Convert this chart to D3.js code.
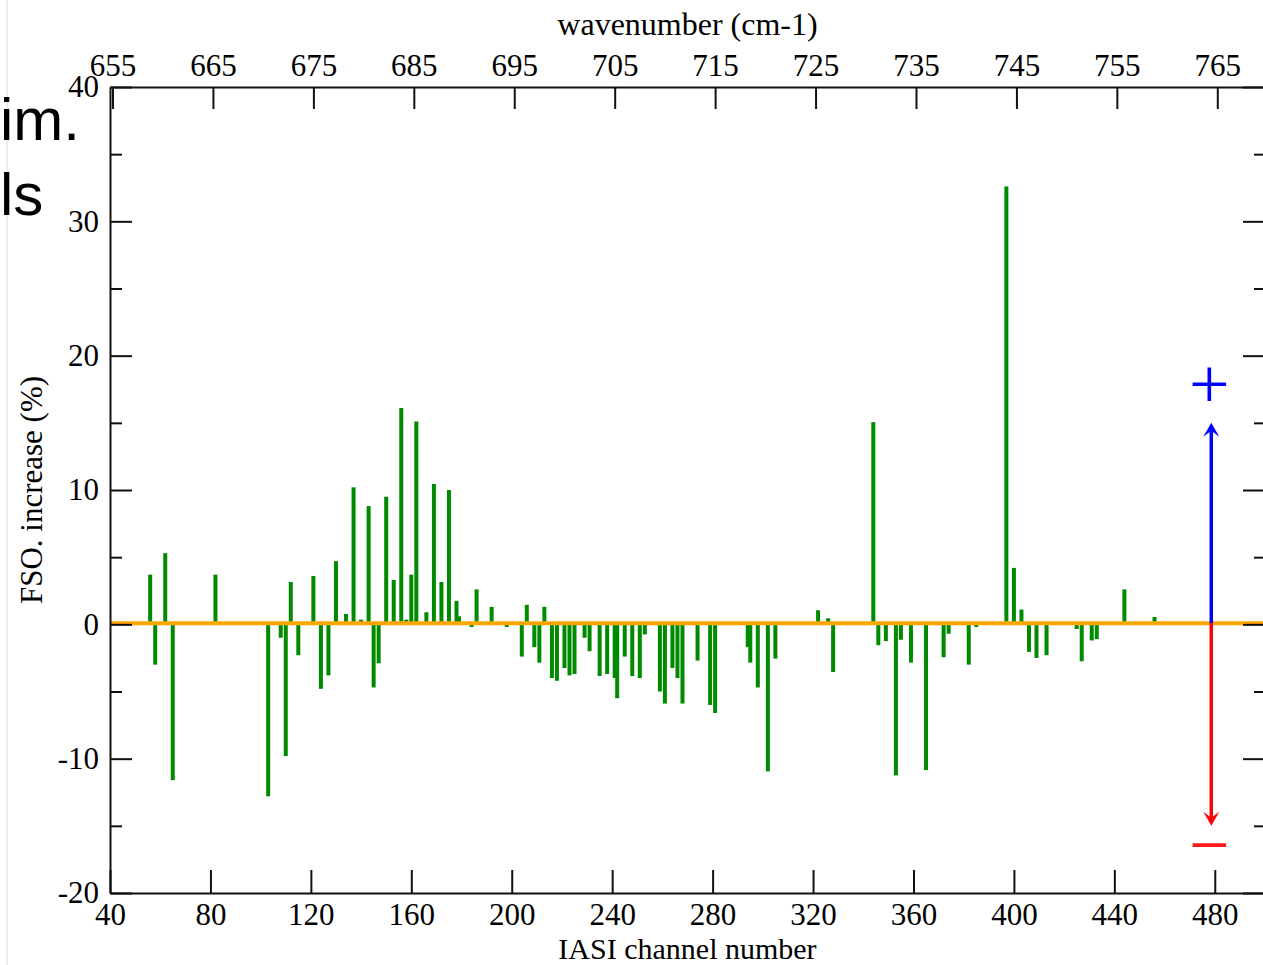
<!DOCTYPE html>
<html>
<head>
<meta charset="utf-8">
<script src="https://cdn.jsdelivr.net/npm/d3@7"></script>
<style>
  body { margin: 0; background: #fff; }
  svg { display: block; }
  .serif { font-family: "Liberation Serif", "Times New Roman", serif; fill: #000; }
</style>
</head>
<body>
<svg id="chart" width="1263" height="965"></svg>
<script>
// IASI channels and the FSO change (%) obtained for each of them
const channels = [
  56, 58, 62, 65, 82, 103, 108, 110, 112, 115, 121, 124, 127, 130, 134, 137, 140, 143, 145, 147,
  150, 153, 156, 158, 160, 162, 166, 169, 172, 175, 178, 179, 184, 186, 192, 198, 204, 206, 209, 211,
  213, 216, 218, 221, 223, 225, 229, 231, 235, 238, 241, 242, 245, 248, 251, 253, 259, 261, 264, 266,
  268, 274, 279, 281, 294, 295, 298, 302, 305, 322, 326, 328, 344, 346, 349, 353, 355, 359, 365, 372,
  374, 382, 385, 397, 400, 403, 406, 409, 413, 425, 427, 431, 433, 444, 456
];
const fsoIncrease = [
  3.7, -3.0, 5.3, -11.6, 3.7, -12.8, -1.0, -9.8, 3.15, -2.3, 3.6, -4.8, -3.8, 4.7, 0.77, 10.2, 0.35, 8.8, -4.7, -2.9,
  9.5, 3.3, 16.1, 0.35, 3.7, 15.1, 0.9, 10.45, 3.15, 10.0, 1.75, 0.6, -0.2, 2.6, 1.3, -0.2, -2.4, 1.45, -1.7, -2.85,
  1.3, -4.0, -4.2, -3.25, -3.8, -3.7, -1.0, -2.0, -3.85, -3.7, -4.0, -5.5, -2.4, -3.85, -4.0, -0.75, -5.0, -5.9, -3.25, -4.0,
  -5.9, -2.7, -6.0, -6.6, -1.7, -2.85, -4.7, -10.95, -2.55, 1.05, 0.45, -3.55, 15.05, -1.55, -1.25, -11.25, -1.15, -2.85, -10.85, -2.45,
  -0.7, -3.0, -0.2, 32.6, 4.2, 1.1, -2.05, -2.5, -2.3, -0.35, -2.75, -1.2, -1.1, 2.6, 0.55
];

// Axis ticks
const channelTicks = [40, 80, 120, 160, 200, 240, 280, 320, 360, 400, 440, 480];
const wavenumberTicks = [655, 665, 675, 685, 695, 705, 715, 725, 735, 745, 755, 765];
const fsoTicks = [-20, -10, 0, 10, 20, 30, 40];
const fsoMinorTicks = [-15, -5, 5, 15, 25, 35];

// Sign-convention marker (arrows from zero, with + and - labels)
const markerChannel = 479;
const markerUp = 15;
const markerDown = -15;
const plusAt = 17.8;
const minusAt = -16.35;

const svg = d3.select("#chart");
const plotLeft = 110, plotRight = 1265, plotTop = 87, plotBottom = 893;

const x = d3.scaleLinear().domain([40, 500]).range([plotLeft, plotRight]);
// IASI channel n sits at 645 + (n - 1) * 0.25 cm-1
const wn = d3.scaleLinear().domain([645 + 39 * 0.25, 645 + 499 * 0.25]).range([plotLeft, plotRight]);
const y = d3.scaleLinear().domain([-20, 40]).range([plotBottom, plotTop]);

svg.append("rect").attr("width", 1263).attr("height", 965).attr("fill", "#fff");

// slide fragments on the left edge
svg.append("line").attr("x1", 7).attr("x2", 7).attr("y1", 0).attr("y2", 965)
  .attr("stroke", "#ededed").attr("stroke-width", 2);
svg.append("text").attr("x", 0).attr("y", 140).text("im.")
  .style("font-family", '"Liberation Sans", Arial, sans-serif').style("font-size", "60px");
svg.append("text").attr("x", 0).attr("y", 215).text("ls")
  .style("font-family", '"Liberation Sans", Arial, sans-serif').style("font-size", "60px");

// bars
const data = channels.map((c, i) => ({ c, v: fsoIncrease[i] }));
svg.append("g").selectAll("rect").data(data).join("rect")
  .attr("x", d => x(d.c) - 2)
  .attr("width", 4)
  .attr("y", d => Math.min(y(d.v), y(0)))
  .attr("height", d => Math.abs(y(d.v) - y(0)))
  .attr("fill", "#008a00");

// zero line
svg.append("line")
  .attr("x1", plotLeft).attr("x2", plotRight)
  .attr("y1", y(0) - 1).attr("y2", y(0) - 1)
  .attr("stroke", "#ffa500").attr("stroke-width", 4);

// axes
function styleAxis(g) {
  g.attr("font-family", null).attr("font-size", null);
  g.selectAll(".domain").attr("stroke", "#111").attr("stroke-width", 2);
  g.selectAll(".tick line").attr("stroke", "#111").attr("stroke-width", 2);
  g.selectAll(".tick text").attr("class", "serif").style("font-size", "31px").attr("fill", "#000");
}
const fmt = d => String(d);

svg.append("g").attr("transform", `translate(0,${plotBottom})`)
  .call(d3.axisBottom(x).tickValues(channelTicks).tickFormat(fmt).tickSizeInner(-23).tickSizeOuter(0).tickPadding(10))
  .call(styleAxis);

svg.append("g").attr("transform", `translate(0,${plotTop})`)
  .call(d3.axisTop(wn).tickValues(wavenumberTicks).tickFormat(fmt).tickSizeInner(-22).tickSizeOuter(0).tickPadding(11))
  .call(styleAxis);

svg.append("g").attr("transform", `translate(${plotLeft},0)`)
  .call(d3.axisLeft(y).tickValues(fsoTicks).tickFormat(fmt).tickSizeInner(-22).tickSizeOuter(0).tickPadding(11))
  .call(styleAxis);
svg.append("g").attr("transform", `translate(${plotLeft},0)`)
  .call(d3.axisLeft(y).tickValues(fsoMinorTicks).tickFormat("").tickSizeInner(-12).tickSizeOuter(0))
  .call(styleAxis).select(".domain").remove();

svg.append("g").attr("transform", `translate(${plotRight},0)`)
  .call(d3.axisRight(y).tickValues(fsoTicks).tickFormat("").tickSizeInner(-22).tickSizeOuter(0))
  .call(styleAxis);
svg.append("g").attr("transform", `translate(${plotRight},0)`)
  .call(d3.axisRight(y).tickValues(fsoMinorTicks).tickFormat("").tickSizeInner(-11).tickSizeOuter(0))
  .call(styleAxis).select(".domain").remove();

// axis titles
svg.append("text").attr("class", "serif")
  .attr("x", (plotLeft + plotRight) / 2).attr("y", 35).attr("text-anchor", "middle")
  .style("font-size", "32px").text("wavenumber (cm-1)");
svg.append("text").attr("class", "serif")
  .attr("x", (plotLeft + plotRight) / 2).attr("y", 959).attr("text-anchor", "middle")
  .style("font-size", "30px").text("IASI channel number");
svg.append("text").attr("class", "serif")
  .attr("transform", `translate(42,${(plotTop + plotBottom) / 2}) rotate(-90)`)
  .attr("text-anchor", "middle")
  .style("font-size", "31px").text("FSO. increase (%)");

// sign-convention arrows
function arrow(value, color) {
  const ax = x(markerChannel) - 1;
  const tip = y(value);
  const dir = value > 0 ? 1 : -1;           // +1 points up, -1 points down
  const back = dir * 14, notch = dir * 8;
  svg.append("line")
    .attr("x1", ax).attr("x2", ax)
    .attr("y1", y(0) - 1).attr("y2", tip + notch)
    .attr("stroke", color).attr("stroke-width", 3.5);
  svg.append("path")
    .attr("d", `M${ax},${tip} L${ax - 8},${tip + back} L${ax},${tip + notch} L${ax + 8},${tip + back} Z`)
    .attr("fill", color);
}
arrow(markerUp, "#0000ff");
arrow(markerDown, "#ff0000");

svg.append("text").attr("class", "serif")
  .attr("x", x(markerChannel) - 3).attr("y", y(plusAt) + 23)
  .attr("text-anchor", "middle").style("font-size", "72px").style("fill", "#0000ff")
  .text("+");
svg.append("text").attr("class", "serif")
  .attr("x", x(markerChannel) - 3).attr("y", y(minusAt) + 25)
  .attr("text-anchor", "middle").style("font-size", "72px").style("fill", "#ff1a1a")
  .text("\u2212");
</script>
</body>
</html>
